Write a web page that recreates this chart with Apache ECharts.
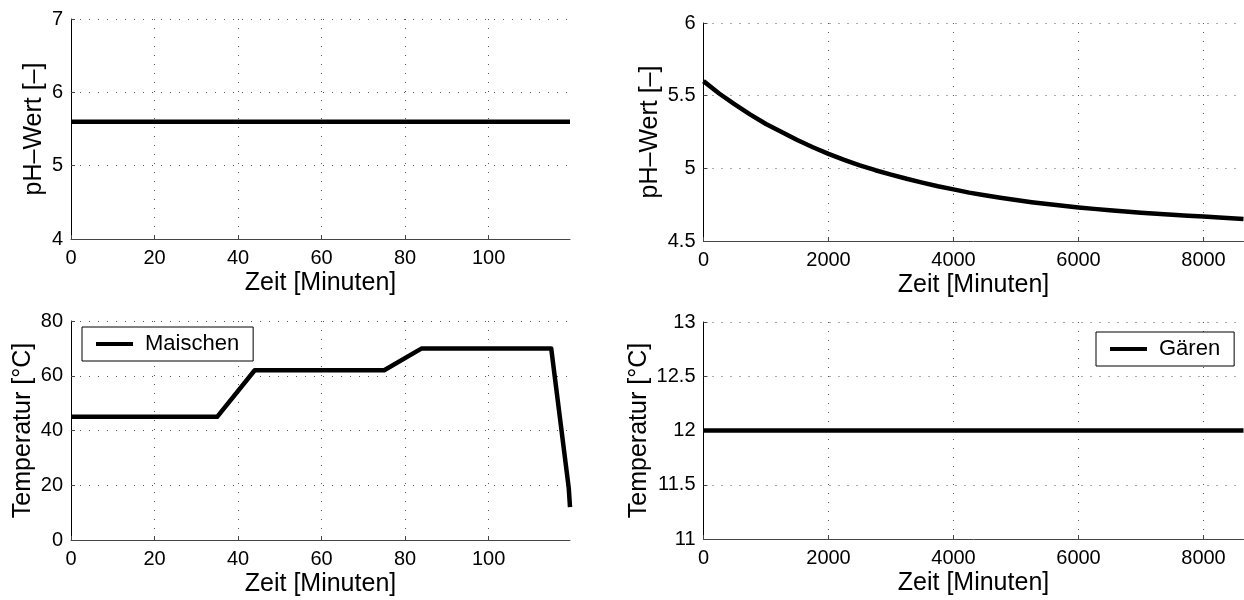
<!DOCTYPE html>
<html>
<head>
<meta charset="utf-8">
<script src="https://cdn.jsdelivr.net/npm/echarts@6/dist/echarts.min.js"></script>
<style>
html,body{margin:0;padding:0;background:#fff;}
#chart{width:1244px;height:600px;}
</style>
</head>
<body>
<div id="chart"></div>
<script>
// ---- data ----
const phMaischenTime = [0, 119.5];
const phMaischen = [5.6, 5.6];

const phGaerenTime = [0, 250, 500, 750, 1000, 1250, 1500, 1750, 2000, 2250, 2500, 2750, 3000, 3250, 3500, 3750, 4000, 4250, 4500, 4750, 5000, 5250, 5500, 5750, 6000, 6250, 6500, 6750, 7000, 7250, 7500, 7750, 8000, 8250, 8640];
const phGaeren = [5.600, 5.515, 5.440, 5.370, 5.305, 5.250, 5.195, 5.145, 5.100, 5.058, 5.020, 4.987, 4.957, 4.928, 4.902, 4.877, 4.855, 4.833, 4.815, 4.798, 4.782, 4.767, 4.754, 4.742, 4.731, 4.721, 4.712, 4.703, 4.695, 4.688, 4.681, 4.674, 4.668, 4.662, 4.652];

const tempMaischenTime = [0, 35, 44, 75, 84, 115, 119.2, 119.5];
const tempMaischen = [45, 45, 62, 62, 70, 70, 19, 12];

const tempGaerenTime = [0, 8640];
const tempGaeren = [12, 12];

const xTicksMaischen = [0, 20, 40, 60, 80, 100];
const xTicksGaeren = [0, 2000, 4000, 6000, 8000];

const xTitle = 'Zeit [Minuten]';
const phTitle = 'pH–Wert [–]';
const tempTitle = 'Temperatur [°C]';
const legendMaischen = 'Maischen';
const legendGaeren = 'Gären';

// ---- chart ----
const FONT = '"Liberation Sans", Arial, Helvetica, sans-serif';
const pairs = (xs, ys) => xs.map((x, i) => [x, ys[i]]);
const plain = v => String(v);

function xAxisCfg(gridIndex, max, ticks) {
  return {
    type: 'value', gridIndex: gridIndex, min: 0, max: max, interval: ticks[1] - ticks[0],
    name: xTitle, nameLocation: 'middle', nameGap: 32,
    nameTextStyle: { fontFamily: FONT, fontSize: 25, color: '#000' },
    axisLine: { show: true, onZero: false, lineStyle: { color: '#444', width: 1 } },
    axisTick: { show: true, inside: true, length: 4, lineStyle: { color: '#444' }, customValues: ticks },
    axisLabel: { fontFamily: FONT, fontSize: 20, color: '#000', margin: 9, customValues: ticks, formatter: plain },
    splitLine: { show: true, showMinLine: false, lineStyle: { color: '#555', type: [1, 8], width: 1 } }
  };
}
function yAxisCfg(gridIndex, min, max, interval, name, gap) {
  return {
    type: 'value', gridIndex: gridIndex, min: min, max: max, interval: interval,
    name: name, nameLocation: 'middle', nameGap: gap,
    nameTextStyle: { fontFamily: FONT, fontSize: 25, color: '#000' },
    axisLine: { show: true, onZero: false, lineStyle: { color: '#000', width: 1 } },
    axisTick: { show: true, inside: true, length: 4, lineStyle: { color: '#444' } },
    axisLabel: { fontFamily: FONT, fontSize: 20, color: '#000', margin: 8, formatter: plain },
    splitLine: { show: true, showMinLine: false, lineStyle: { color: '#555', type: [1, 8], width: 1 } }
  };
}
function lineSeries(name, idx, data) {
  return {
    name: name, type: 'line', xAxisIndex: idx, yAxisIndex: idx, data: data,
    showSymbol: false, symbol: 'none', color: '#000', smooth: false,
    lineStyle: { color: '#000', width: 4.5, join: 'round' }, itemStyle: { color: '#000' },
    animation: false, silent: true
  };
}
function legendCfg(name, left, top) {
  return {
    data: [name], left: left, top: top, orient: 'vertical',
    backgroundColor: '#fff', borderColor: '#000', borderWidth: 1, borderRadius: 0,
    padding: [6, 14, 6, 14], icon: 'rect', itemWidth: 37, itemHeight: 4,
    textStyle: { fontFamily: FONT, fontSize: 22, color: '#000', padding: [0, 0, 0, 7] },
    selectedMode: false
  };
}

const chart = echarts.init(document.getElementById('chart'), null, { renderer: 'canvas' });
chart.setOption({
  animation: false,
  backgroundColor: '#fff',
  grid: [
    { left: 71, top: 19, width: 499, height: 220 },
    { left: 703.5, top: 23, width: 540, height: 218 },
    { left: 71, top: 321, width: 499, height: 219 },
    { left: 703.5, top: 322, width: 540, height: 217 }
  ],
  xAxis: [
    xAxisCfg(0, 119.5, xTicksMaischen),
    xAxisCfg(1, 8640, xTicksGaeren),
    xAxisCfg(2, 119.5, xTicksMaischen),
    xAxisCfg(3, 8640, xTicksGaeren)
  ],
  yAxis: [
    yAxisCfg(0, 4, 7, 1, phTitle, 24),
    yAxisCfg(1, 4.5, 6, 0.5, phTitle, 41),
    yAxisCfg(2, 0, 80, 20, tempTitle, 35),
    yAxisCfg(3, 11, 13, 0.5, tempTitle, 52)
  ],
  legend: [
    legendCfg(legendMaischen, 82, 327),
    legendCfg(legendGaeren, 1096, 332)
  ],
  series: [
    lineSeries('pH Maischen', 0, pairs(phMaischenTime, phMaischen)),
    lineSeries('pH Gären', 1, pairs(phGaerenTime, phGaeren)),
    lineSeries(legendMaischen, 2, pairs(tempMaischenTime, tempMaischen)),
    lineSeries(legendGaeren, 3, pairs(tempGaerenTime, tempGaeren))
  ]
});
</script>
</body>
</html>
